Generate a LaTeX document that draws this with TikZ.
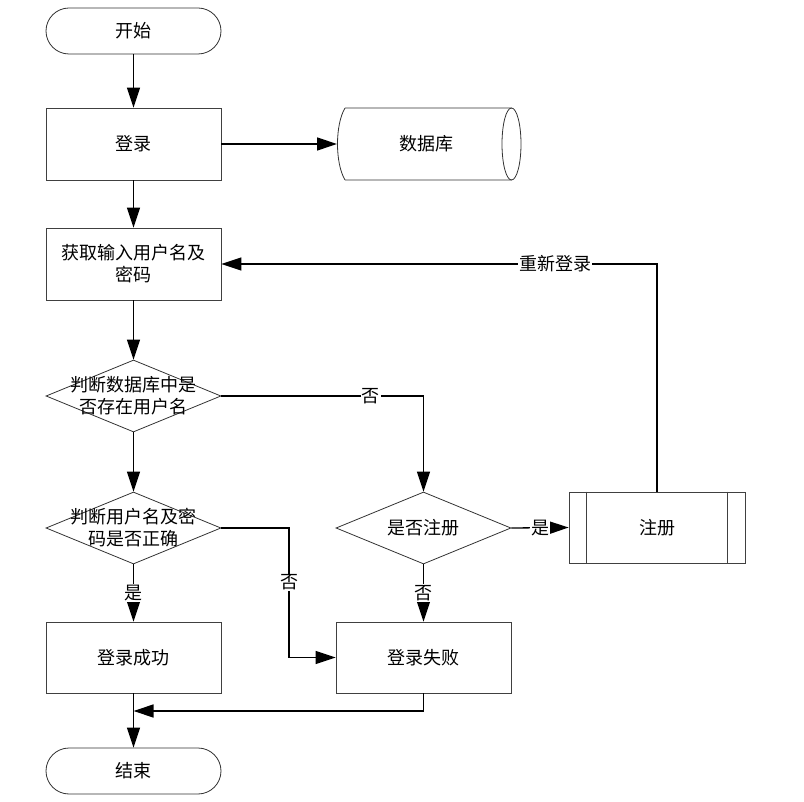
\documentclass[tikz,border=0pt]{standalone}
\usepackage{fontspec}
\setmainfont{Noto Sans CJK SC}
\usetikzlibrary{arrows.meta,shapes.geometric,calc}
\begin{document}
\begin{tikzpicture}[x=1pt,y=1pt,
  every node/.style={font=\fontsize{18}{22}\selectfont, align=center, inner sep=0pt},
  box/.style={draw=black!75, line width=0.8pt, minimum width=175pt, minimum height=72pt, fill=white},
  term/.style={draw=black!80, line width=0.8pt, minimum width=175pt, minimum height=46pt, rounded corners=23pt},
  dec/.style={draw=black!80, line width=0.8pt, diamond, aspect=2.43, minimum width=175pt, minimum height=72pt, inner sep=0pt},
  conn/.style={draw=black, line width=1.3pt, -{Triangle[length=20pt,width=13pt]}},
  lab/.style={fill=white, inner sep=1pt}
]
\useasboundingbox (0,0) rectangle (804,-802);
\node[term] (start) at (133.5,-31) {开始};
\node[box] (login) at (133.5,-144) {登录};
\node[minimum width=184pt, minimum height=72pt] (db) at (426,-144) {数据库};
\node[box] (input) at (133.5,-264) {获取输入用户名及\\密码};
\node[dec, shape aspect=2.43] (d1) at (133.5,-396) {};
\node at (133.5,-396) {判断数据库中是\\否存在用户名};
\node[dec, shape aspect=2.43] (d2) at (133.5,-528) {};
\node at (133.5,-528) {判断用户名及密\\码是否正确};
\node[dec, shape aspect=2.43] (d3) at (423.5,-528) {};
\node at (423.5,-528) {是否注册};
\node[box, minimum width=176pt, minimum height=71pt] (reg) at (657,-527.5) {注册};
\draw[draw=black!75, line width=0.8pt] ($(reg.north west)+(18,0)$) -- ($(reg.south west)+(18,0)$);
\draw[draw=black!75, line width=0.8pt] ($(reg.north east)+(-18,0)$) -- ($(reg.south east)+(-18,0)$);
\node[box, minimum height=71pt] (ok) at (133.5,-657.5) {登录成功};
\node[box, minimum height=71pt] (fail) at (423.5,-657.5) {登录失败};
\node[term] (end) at (133.5,-771) {结束};
% database cylinder
\draw[draw=black!80, line width=0.8pt]
  (345,-108) -- (511.5,-108)
  (345,-180) -- (511.5,-180)
  (345,-108) .. controls (335,-125) and (335,-163) .. (345,-180);
\draw[draw=black!80, line width=0.8pt] (511.5,-144) ellipse [x radius=9.5, y radius=36];
\coordinate (dbin) at (337,-144);
\coordinate (join) at (133.5,-711);
% connectors
\draw[conn] (start) -- (login);
\draw[conn] (login.east) -- (dbin);
\draw[conn] (login) -- (input);
\draw[conn] (input) -- (d1);
\draw[conn] (d1.east) -| node[lab, pos=0.37] {否} (d3.north);
\draw[conn] (d1) -- (d2);
\draw[conn] (d2.south) -- node[lab] {是} (ok.north);
\draw[conn] (d2.east) -| node[lab, pos=0.71] {否} (289,-657.5) -- (fail.west);
\draw[conn] (d3.east) -- node[lab] {是} (reg.west);
\draw[conn] (d3.south) -- node[lab] {否} (fail.north);
\draw[conn] (reg.north) |- node[lab, pos=0.617] {重新登录} (input.east);
\draw[conn] (ok) -- (end);
\draw[conn] (fail.south) |- (join);
\end{tikzpicture}
\end{document}
